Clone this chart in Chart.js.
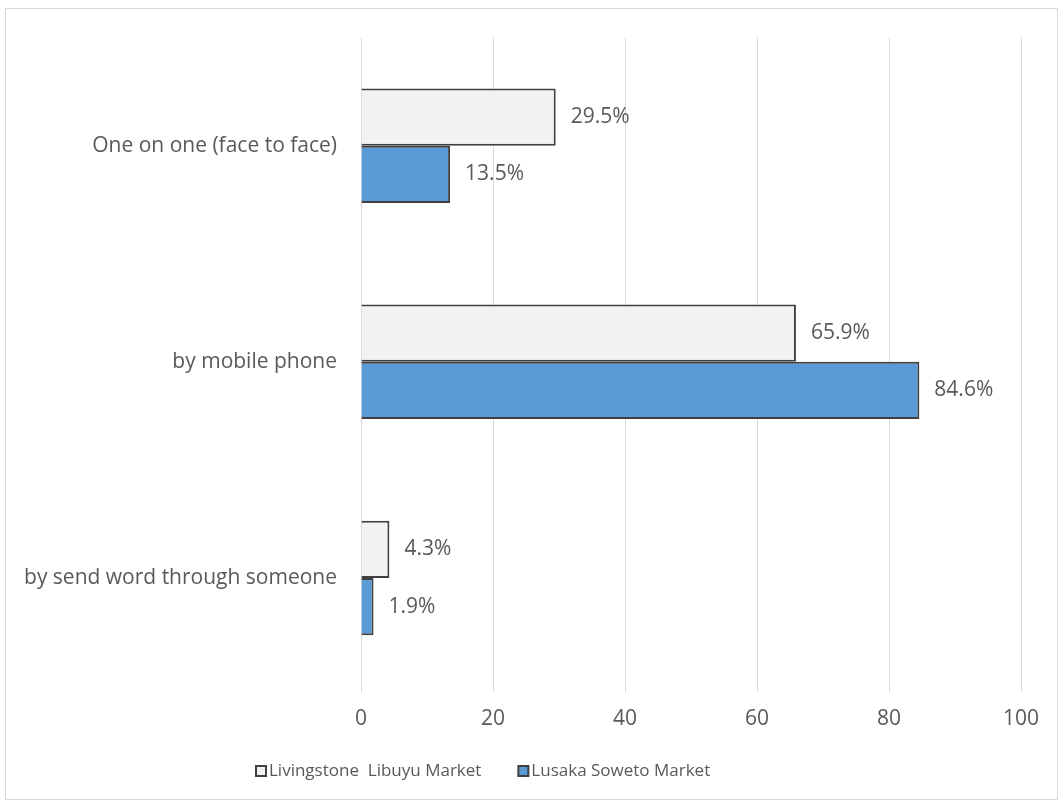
<!DOCTYPE html>
<html>
<head>
<meta charset="utf-8">
<script src="https://cdn.jsdelivr.net/npm/chart.js@4/dist/chart.umd.min.js"></script>
<style>
  html, body { margin: 0; padding: 0; background: #fff; }
  #frame {
    position: absolute; left: 5px; top: 8px;
    width: 1051px; height: 790px;
    border: 1px solid #d9d9d9;
  }
  #chart { display: block; }
</style>
</head>
<body>
<div id="frame"><canvas id="chart" width="1051" height="790"></canvas></div>
<script>
// Data
const categories = ['One on one (face to face)', 'by mobile phone', 'by send word through someone'];
const seriesNames = ['Livingstone  Libuyu Market', 'Lusaka Soweto Market'];
const livingstoneValues = [29.5, 65.9, 4.3];
const lusakaValues = [13.5, 84.6, 1.9];
const xTicks = [0, 20, 40, 60, 80, 100];

const textColor = '#595959';
const fontFamily = '"Open Sans", "Noto Sans", sans-serif';

// Draws the "xx.x%" labels just past the end of each bar
const valueLabels = {
    id: 'valueLabels',
    afterDatasetsDraw(chart) {
        const ctx = chart.ctx;
        ctx.save();
        ctx.font = '21px ' + fontFamily;
        ctx.fillStyle = textColor;
        ctx.textAlign = 'left';
        ctx.textBaseline = 'middle';
        chart.data.datasets.forEach((ds, i) => {
            chart.getDatasetMeta(i).data.forEach((bar, j) => {
                ctx.fillText(ds.data[j].toFixed(1) + '%', bar.x + 15, bar.y);
            });
        });
        ctx.restore();
    }
};

// Legend under the axis, a bit left of centre as in the original
const bottomLegend = {
    id: 'bottomLegend',
    afterDraw(chart) {
        const ctx = chart.ctx;
        ctx.save();
        ctx.font = '17px ' + fontFamily;
        ctx.textBaseline = 'middle';
        ctx.textAlign = 'left';
        const y = chart.height - 28;
        let x = 250;
        chart.data.datasets.forEach(ds => {
            ctx.fillStyle = ds.backgroundColor;
            ctx.fillRect(x, y - 5, 10, 10);
            ctx.strokeStyle = ds.borderColor;
            ctx.lineWidth = 2;
            ctx.strokeRect(x, y - 5, 10, 10);
            ctx.fillStyle = textColor;
            ctx.fillText(ds.label, x + 13, y);
            x += 13 + ctx.measureText(ds.label).width + 37;
        });
        ctx.restore();
    }
};

new Chart(document.getElementById('chart'), {
    type: 'bar',
    data: {
        labels: categories,
        datasets: [{
            label: seriesNames[0],
            data: livingstoneValues,
            backgroundColor: '#f2f2f2',
            borderColor: '#404040',
            borderWidth: 2
        }, {
            label: seriesNames[1],
            data: lusakaValues,
            backgroundColor: '#5b9bd5',
            borderColor: '#404040',
            borderWidth: 2
        }]
    },
    options: {
        indexAxis: 'y',
        responsive: false,
        animation: false,
        categoryPercentage: 0.53,
        barPercentage: 1,
        layout: { padding: { top: 27, right: 36, bottom: 53, left: 0 } },
        plugins: {
            legend: { display: false },
            tooltip: { enabled: false }
        },
        scales: {
            x: {
                min: 0,
                max: 100,
                afterBuildTicks: scale => { scale.ticks = xTicks.map(v => ({ value: v })); },
                grid: { color: '#d9d9d9', lineWidth: 1, drawTicks: true, tickLength: 6, tickColor: '#d9d9d9' },
                border: { display: false },
                ticks: { color: textColor, font: { size: 21, family: fontFamily }, padding: 14 },
                afterFit: scale => { scale.height = 60; }
            },
            y: {
                grid: { display: false },
                border: { display: false },
                ticks: { color: textColor, font: { size: 21, family: fontFamily }, padding: 16 },
                afterFit: scale => { scale.width = 355; }
            }
        }
    },
    plugins: [valueLabels, bottomLegend]
});
</script>
</body>
</html>
